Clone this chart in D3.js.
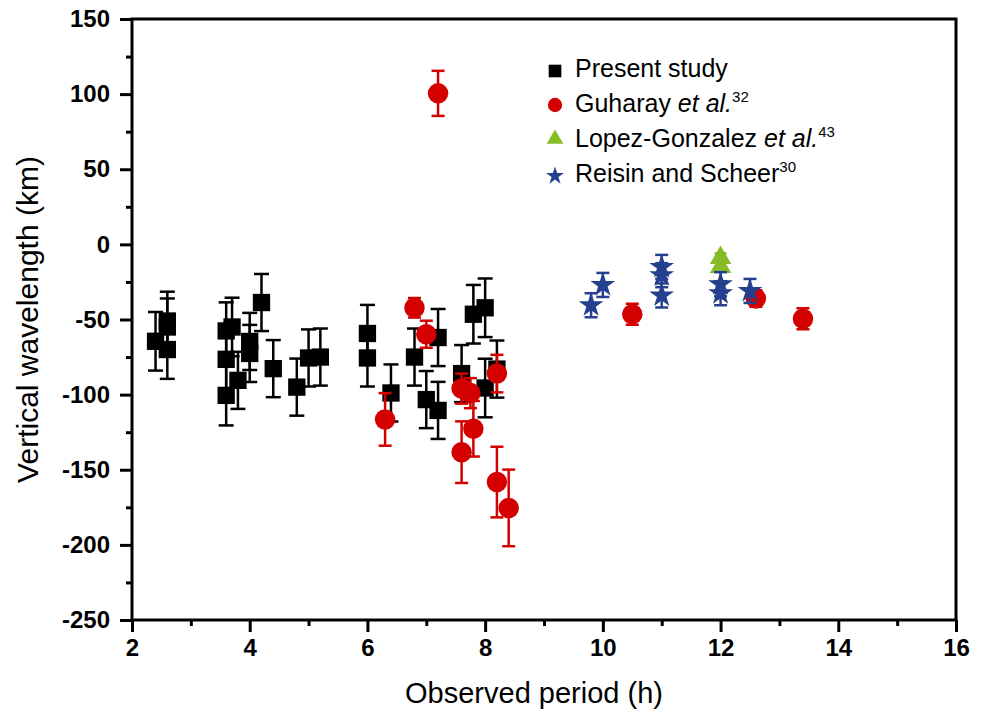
<!DOCTYPE html>
<html>
<head>
<meta charset="utf-8">
<script src="https://cdn.jsdelivr.net/npm/d3@7"></script>
<style>
  body { margin: 0; background: #fff; }
  text { font-family: "Liberation Sans", Arial, sans-serif; }
</style>
</head>
<body>
<div id="chart"></div>
<script>
// Series: [period (h), vertical wavelength (km), error (km)]
const presentStudy = [
  [2.4, -64.5, 19.5], [2.6, -51, 19.5], [2.6, -55, 19], [2.6, -70, 19.5],
  [3.6, -57.6, 19], [3.7, -55, 19.5], [3.6, -76.5, 20], [3.6, -100.5, 20],
  [3.8, -90.5, 19], [4.0, -64.6, 19], [4.0, -72.6, 19], [4.2, -38.7, 19],
  [4.4, -82.7, 19], [4.8, -95, 19], [5.0, -75.6, 19], [5.2, -75, 19],
  [6.0, -59.3, 19], [6.0, -75.6, 19], [6.4, -98.9, 19], [6.8, -75, 19],
  [7.0, -103.3, 19], [7.2, -62, 19], [7.2, -110.5, 19], [7.6, -86, 19],
  [7.8, -46.5, 19.5], [8.0, -42.2, 19.5], [8.0, -95.6, 19.5], [8.2, -83, 19]
];
const guharay = [
  [6.3, -116.5, 17.5], [6.8, -42.2, 6.5], [7.0, -59.8, 9], [7.2, 100.5, 15],
  [7.6, -96, 10], [7.75, -99, 10], [7.6, -138.3, 20.5], [7.8, -122.7, 18.5],
  [8.2, -158.2, 23.5], [8.4, -175.4, 25.5], [8.2, -86, 12.5],
  [10.5, -46.5, 7], [12.6, -36, 5.5], [13.4, -49.5, 7]
];
const lopezGonzalez = [
  [12.0, -9, 3], [12.0, -15, 3]
];
const reisinScheer = [
  [9.8, -40.5, 8], [10.0, -27, 8], [11.0, -15, 8], [11.0, -20.5, 8],
  [11.0, -34, 8], [12.0, -26.5, 8], [12.0, -32.5, 8], [12.5, -31, 8]
];

const xTicks = [2, 4, 6, 8, 10, 12, 14, 16];
const yTicks = [150, 100, 50, 0, -50, -100, -150, -200, -250];

const width = 982;
const height = 722;
const margin = { top: 19, right: 26, bottom: 102, left: 132 };

const svg = d3.select('#chart')
  .append('svg')
  .attr('width', width)
  .attr('height', height);

const x = d3.scaleLinear().domain([2, 16]).range([margin.left, width - margin.right]);
const y = d3.scaleLinear().domain([-250, 150]).range([height - margin.bottom, margin.top]);

// frame
svg.append('rect')
  .attr('x', x(2)).attr('y', y(150))
  .attr('width', x(16) - x(2)).attr('height', y(-250) - y(150))
  .attr('fill', 'none').attr('stroke', '#000').attr('stroke-width', 3);

// minor ticks
svg.append('g')
  .attr('transform', `translate(0,${y(-250)})`)
  .call(d3.axisBottom(x).tickValues(d3.range(3, 16, 2)).tickSize(6).tickFormat(''))
  .call(g => g.select('.domain').remove())
  .selectAll('line').attr('stroke-width', 3);
svg.append('g')
  .attr('transform', `translate(${x(2)},0)`)
  .call(d3.axisLeft(y).tickValues(d3.range(-225, 150, 50)).tickSize(6).tickFormat(''))
  .call(g => g.select('.domain').remove())
  .selectAll('line').attr('stroke-width', 3);

// major ticks + labels (plain hyphen for negatives, as in the figure)
const xAxis = svg.append('g')
  .attr('transform', `translate(0,${y(-250)})`)
  .call(d3.axisBottom(x).tickValues(xTicks).tickSize(12).tickPadding(7).tickFormat(d => String(d)));
const yAxis = svg.append('g')
  .attr('transform', `translate(${x(2)},0)`)
  .call(d3.axisLeft(y).tickValues(yTicks).tickSize(12).tickPadding(10).tickFormat(d => String(d)));
[xAxis, yAxis].forEach(g => {
  g.select('.domain').remove();
  g.selectAll('line').attr('stroke-width', 3);
  g.selectAll('text')
    .attr('font-family', '"Liberation Sans", Arial, sans-serif')
    .attr('font-weight', 'bold')
    .attr('font-size', 24)
    .attr('fill', '#000');
});

// axis titles
svg.append('text')
  .attr('x', (x(2) + x(16)) / 2 - 10)
  .attr('y', 703)
  .attr('text-anchor', 'middle')
  .attr('font-size', 29)
  .text('Observed period (h)');
svg.append('text')
  .attr('transform', `translate(38,${(y(150) + y(-250)) / 2}) rotate(-90)`)
  .attr('text-anchor', 'middle')
  .attr('font-size', 30)
  .text('Vertical wavelength (km)');

// series with error bars
function drawSeries(data, color, symbolType, size, capW) {
  const g = svg.append('g');
  const pt = g.selectAll('g').data(data).enter().append('g');
  pt.append('line')
    .attr('x1', d => x(d[0])).attr('x2', d => x(d[0]))
    .attr('y1', d => y(d[1] + d[2])).attr('y2', d => y(d[1] - d[2]))
    .attr('stroke', color).attr('stroke-width', 2.5);
  [1, -1].forEach(s => {
    pt.append('line')
      .attr('x1', d => x(d[0]) - capW / 2).attr('x2', d => x(d[0]) + capW / 2)
      .attr('y1', d => y(d[1] + s * d[2])).attr('y2', d => y(d[1] + s * d[2]))
      .attr('stroke', color).attr('stroke-width', 2.5);
  });
  pt.append('path')
    .attr('transform', d => `translate(${x(d[0])},${y(d[1])})`)
    .attr('d', d3.symbol().type(symbolType).size(size))
    .attr('fill', color);
}

const black = '#000000', red = '#d40000', green = '#86bc25', blue = '#24408e';
drawSeries(presentStudy, black, d3.symbolSquare, 300, 15);
drawSeries(guharay, red, d3.symbolCircle, 330, 13);
drawSeries(lopezGonzalez, green, d3.symbolTriangle, 200, 12);
drawSeries(reisinScheer, blue, d3.symbolStar, 190, 13);

// legend
const legendItems = [
  { sym: d3.symbolSquare, size: 160, color: black, parts: [['Present study']] },
  { sym: d3.symbolCircle, size: 160, color: red, parts: [['Guharay '], ['et al.', 'i'], ['32', 's']] },
  { sym: d3.symbolTriangle, size: 120, color: green, parts: [['Lopez-Gonzalez '], ['et al.', 'i'], ['43', 's']] },
  { sym: d3.symbolStar, size: 100, color: blue, parts: [['Reisin and Scheer'], ['30', 's']] }
];
const legendSymY = [71, 105, 139, 176];
const legendBase = [77, 112, 147, 182];
const legend = svg.append('g');
legendItems.forEach((item, i) => {
  legend.append('path')
    .attr('transform', `translate(555,${legendSymY[i]})`)
    .attr('d', d3.symbol().type(item.sym).size(item.size))
    .attr('fill', item.color);
  const t = legend.append('text')
    .attr('x', 575)
    .attr('y', legendBase[i])
    .attr('font-size', 25);
  item.parts.forEach(p => {
    const ts = t.append('tspan').text(p[0]);
    if (p[1] === 'i') ts.attr('font-style', 'italic');
    if (p[1] === 's') ts.attr('font-size', 15).attr('dy', -10);
  });
});
</script>
</body>
</html>
